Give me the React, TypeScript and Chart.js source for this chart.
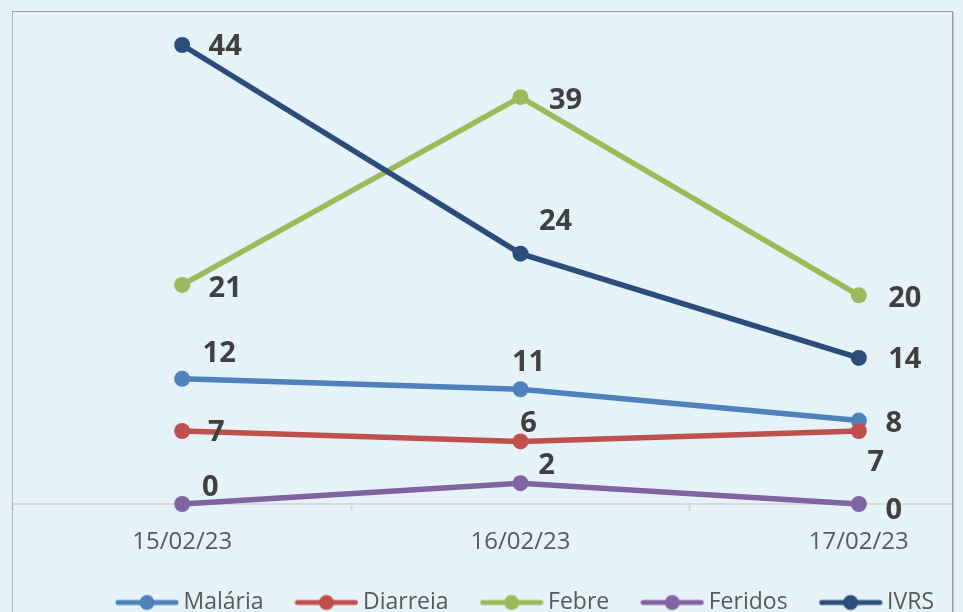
import React, { useEffect, useRef } from 'react';
import { Chart, registerables } from 'chart.js';

Chart.register(...registerables);

// ---- data ----
const categories = ['15/02/23', '16/02/23', '17/02/23'];
const seriesNames = ['Malária', 'Diarreia', 'Febre', 'Feridos', 'IVRS'];
const malaria = [12, 11, 8];
const diarreia = [7, 6, 7];
const febre = [21, 39, 20];
const feridos = [0, 2, 0];
const ivrs = [44, 24, 14];
const seriesValues = [malaria, diarreia, febre, feridos, ivrs];

// ---- styles ----
const seriesColors = ['#4F81BD', '#C0504D', '#9BBB59', '#8064A2', '#2C4D7B'];
// label centre offset from its point (px), per series / per point
const labelOffsets: number[][][] = [
  [[37, -27], [8, -29], [35, 1]],
  [[34, 0], [8, -20], [17, 30]],
  [[43, 2], [45, 1], [46, 1]],
  [[28, -18], [26, -20], [35, 5]],
  [[43, 0], [35, -34], [46, 0]],
];
const BG = '#E5F2F8';
const FONT = "'Open Sans', 'DejaVu Sans', sans-serif";
const CANVAS_W = 1056;
const CANVAS_H = 624;

function makeLegendIcon(color: string): HTMLCanvasElement {
  const c = document.createElement('canvas');
  c.width = 64;
  c.height = 18;
  const g = c.getContext('2d')!;
  g.strokeStyle = color;
  g.lineWidth = 5;
  g.lineCap = 'round';
  g.beginPath();
  g.moveTo(3, 9);
  g.lineTo(61, 9);
  g.stroke();
  g.fillStyle = color;
  g.beginPath();
  g.arc(32, 9, 7.5, 0, Math.PI * 2);
  g.fill();
  return c;
}

const valueLabelPlugin = {
  id: 'valueLabels',
  afterDatasetsDraw(chart: any) {
    const ctx = chart.ctx;
    ctx.save();
    ctx.font = `bold 29px ${FONT}`;
    ctx.fillStyle = '#404040';
    ctx.textAlign = 'center';
    ctx.textBaseline = 'alphabetic';
    chart.data.datasets.forEach((ds: any, di: number) => {
      const meta = chart.getDatasetMeta(di);
      meta.data.forEach((el: any, i: number) => {
        const off = labelOffsets[di][i];
        ctx.fillText(String(ds.data[i]), el.x + off[0], el.y + off[1] + 10.4);
      });
    });
    ctx.restore();
  },
};

export default function App() {
  const ref = useRef<HTMLCanvasElement>(null);

  useEffect(() => {
    if (!ref.current) return;
    const icons = seriesColors.map(makeLegendIcon);
    const n = seriesNames.length;
    const chart = new Chart(ref.current, {
      type: 'line',
      data: {
        labels: categories,
        datasets: seriesNames.map((name, i) => ({
          label: name,
          data: seriesValues[i],
          borderColor: seriesColors[i],
          backgroundColor: seriesColors[i],
          borderWidth: 5.5,
          pointRadius: 8,
          pointHoverRadius: 8,
          pointBorderWidth: 0,
          pointBackgroundColor: seriesColors[i],
          tension: 0,
          clip: false as any,
          order: n - i,
        })),
      },
      options: {
        responsive: false,
        animation: false,
        events: [],
        layout: { padding: { left: 13, right: 13, top: 11, bottom: 0 } },
        scales: {
          x: {
            type: 'category',
            offset: true,
            grid: {
              offset: true,
              drawOnChartArea: false,
              drawTicks: true,
              tickLength: 7,
              tickColor: '#D9D9D9',
              tickWidth: 2,
            },
            border: { display: true, color: '#D9D9D9', width: 2 },
            ticks: {
              color: '#595959',
              font: { family: FONT, size: 24 },
              padding: 17,
              maxRotation: 0,
              autoSkip: false,
            },
            afterFit: (s: any) => {
              s.height = 49;
            },
          },
          y: {
            position: 'right',
            min: 0,
            max: 47.26,
            ticks: { display: false },
            grid: { display: false },
            border: { display: false },
            afterFit: (s: any) => {
              s.width = 15;
            },
          },
        },
        plugins: {
          tooltip: { enabled: false },
          legend: {
            display: true,
            position: 'bottom',
            align: 'center',
            labels: {
              usePointStyle: true,
              pointStyleWidth: 50,
              padding: 38,
              color: '#595959',
              font: { family: FONT, size: 23 },
              generateLabels: (ch: any) =>
                ch.data.datasets.map((ds: any, i: number) => ({
                  text: ds.label,
                  pointStyle: icons[i],
                  fillStyle: seriesColors[i],
                  strokeStyle: seriesColors[i],
                  lineWidth: 0,
                  hidden: false,
                  datasetIndex: i,
                  fontColor: '#595959',
                })),
            },
          },
        },
      },
      plugins: [valueLabelPlugin],
    });
    return () => chart.destroy();
  }, []);

  return (
    <div
      style={{
        position: 'fixed',
        left: 0,
        top: 0,
        width: 963,
        height: 612,
        overflow: 'hidden',
        background: BG,
      }}
    >
      <canvas
        ref={ref}
        width={CANVAS_W}
        height={CANVAS_H}
        style={{ position: 'absolute', left: 0, top: 0, width: CANVAS_W, height: CANVAS_H }}
      />
      <div
        style={{
          position: 'absolute',
          left: 12,
          top: 11,
          width: 941,
          height: 700,
          boxSizing: 'border-box',
          borderTop: '1px solid #9A9A9A',
          borderLeft: '1px solid #B4B4B4',
          borderRight: '1px solid #9A9A9A',
          pointerEvents: 'none',
        }}
      />
      <div
        style={{
          position: 'absolute',
          left: 953,
          top: 12,
          width: 10,
          height: 600,
          background: BG,
          borderLeft: '1px solid #C8C8C8',
          boxSizing: 'border-box',
        }}
      />
    </div>
  );
}
